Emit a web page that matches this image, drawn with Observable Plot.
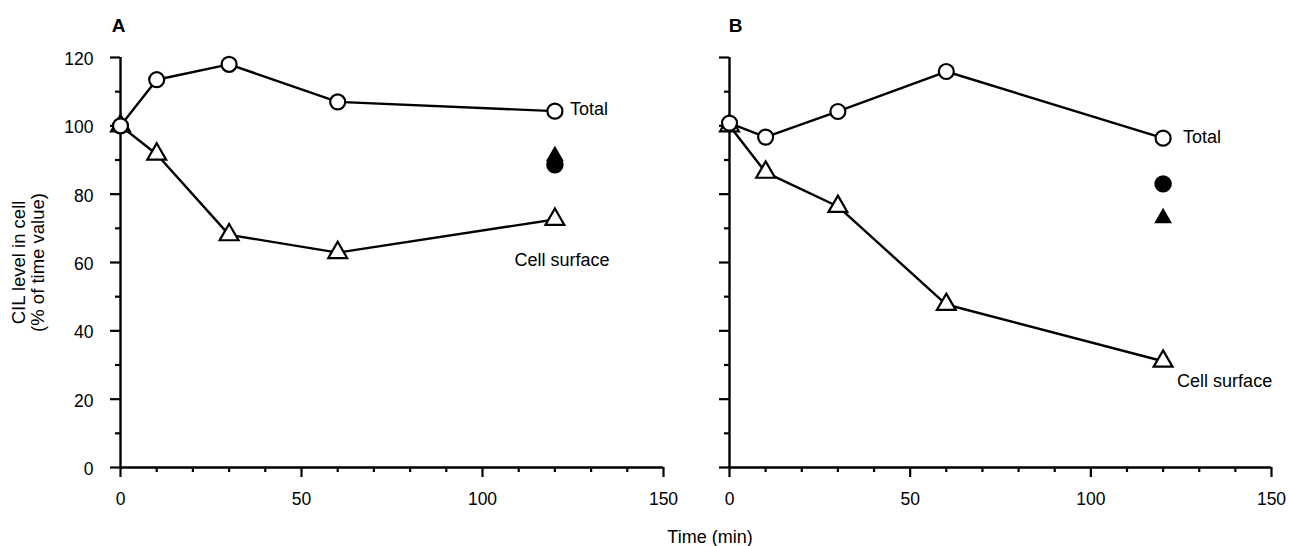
<!DOCTYPE html>
<html><head><meta charset="utf-8">
<script src="https://cdn.jsdelivr.net/npm/d3@7"></script>
<script src="https://cdn.jsdelivr.net/npm/@observablehq/plot@0.6"></script>
<style>
body{margin:0;background:#fff;}
#wrap{position:relative;width:1290px;height:546px;font-family:"Liberation Sans",Arial,sans-serif;color:#000;}
#wrap svg{position:absolute;top:0;}
#xlabel{position:absolute;top:527px;left:610px;width:200px;text-align:center;font-size:18px;line-height:20px;}
</style></head><body>
<div id="wrap"><div id="xlabel">Time (min)</div></div>
<script>
// ---- data ----
const times = [0, 10, 30, 60, 120];
const totalA = [100, 113.5, 118, 107, 104.3];
const surfaceA = [100, 91.7, 68.1, 62.9, 72.6];
const filledCircleA = [88.6];
const filledTriangleA = [91.2];
const totalB = [100.8, 96.7, 104.2, 115.9, 96.4];
const surfaceB = [100, 86.4, 76.4, 47.7, 31.1];
const filledCircleB = [83.0];
const filledTriangleB = [73.0];
const filledTime = [120];
const panelLetters = ["A", "B"];
const seriesNames = ["Total", "Cell surface"];
const yTicks = [0, 20, 40, 60, 80, 100, 120];
const yMinorTicks = [10, 30, 50, 70, 90, 110];
const xTicks = [0, 50, 100, 150];
const xMinorTicks = [10, 20, 30, 40, 60, 70, 80, 90, 110, 120, 130, 140];
const yLabel = "CIL level in cell\n(% of time value)";

function series(name, ys) { return times.map((t, i) => ({series: name, t, v: ys[i]})); }

function panel(cfg) {
  const tot = series(seriesNames[0], cfg.total);
  const surf = series(seriesNames[1], cfg.surface);
  const fc = filledTime.map((t, i) => ({t, v: cfg.fCircle[i]}));
  const ft = filledTime.map((t, i) => ({t, v: cfg.fTri[i]}));
  const last = times.length - 1;
  const marks = [
    Plot.axisY({ticks: yTicks, tickSize: 10, strokeWidth: 2.2, tickFormat: () => "", label: null}),
    Plot.axisY({ticks: yMinorTicks, tickSize: 5, strokeWidth: 2.2, tickFormat: () => "", label: null}),
    Plot.axisX({ticks: xTicks, tickSize: 10, tickPadding: 15, strokeWidth: 2.2, label: null}),
    Plot.axisX({ticks: xMinorTicks, tickSize: 5, strokeWidth: 2.2, tickFormat: () => "", label: null}),
    Plot.ruleX([0], {y1: 0, y2: 120, strokeWidth: 2.4}),
    Plot.ruleY([0], {x1: 0, x2: 150, strokeWidth: 2.4}),
    Plot.line(tot.concat(surf), {x: "t", y: "v", z: "series", stroke: "black", strokeWidth: 2.4}),
    Plot.dot(surf, {x: "t", y: "v", symbol: "triangle", r: 7, fill: "white", stroke: "black", strokeWidth: 2.2}),
    Plot.dot(tot, {x: "t", y: "v", r: 7.5, fill: "white", stroke: "black", strokeWidth: 2.2}),
    Plot.dot(ft, {x: "t", y: "v", symbol: "triangle", r: 6.6, fill: "black", stroke: "none"}),
    Plot.dot(fc, {x: "t", y: "v", r: 8.7, fill: "black", stroke: "none"}),
    Plot.text([tot[last]], {x: "t", y: "v", text: "series", textAnchor: "start", dx: cfg.totDx, dy: cfg.totDy, fontSize: 18}),
    Plot.text([surf[last]], {x: "t", y: "v", text: "series", textAnchor: cfg.surfAnchor, dx: cfg.surfDx, dy: cfg.surfDy, fontSize: 18}),
    Plot.text([cfg.letter], {frameAnchor: "top-left", dx: cfg.letterDx, dy: -32, textAnchor: "middle", lineAnchor: "middle", fontWeight: "bold", fontSize: 19})
  ];
  if (cfg.yLabels) {
    marks.push(Plot.text(yTicks, {x: 0, y: d => d, text: d => String(d), textAnchor: "end", lineAnchor: "middle", dx: -27, dy: 2, fontSize: 17.5}));
    marks.push(Plot.text([yLabel], {frameAnchor: "left", rotate: -90, dx: -92, fontSize: 18.5, lineHeight: 1.05, textAnchor: "middle", lineAnchor: "middle"}));
  }
  const svg = Plot.plot({
    width: cfg.width, height: 520,
    marginLeft: cfg.ml, marginRight: cfg.mr, marginTop: 57, marginBottom: 53,
    x: {domain: [0, 150]},
    y: {domain: [0, 120]},
    style: {fontFamily: "'Liberation Sans', Arial, sans-serif", fontSize: "17.5px", color: "black", background: "transparent", overflow: "visible"},
    marks
  });
  svg.style.left = cfg.left + "px";
  return svg;
}

const wrap = document.getElementById("wrap");
wrap.appendChild(panel({left: 0, width: 690, ml: 120, mr: 27, total: totalA, surface: surfaceA,
  fCircle: filledCircleA, fTri: filledTriangleA, letter: panelLetters[0], yLabels: true,
  totDx: 15, totDy: -2, surfAnchor: "middle", surfDx: 7, surfDy: 41, letterDx: -2}));
wrap.appendChild(panel({left: 690, width: 600, ml: 39, mr: 19, total: totalB, surface: surfaceB,
  fCircle: filledCircleB, fTri: filledTriangleB, letter: panelLetters[1], yLabels: false,
  totDx: 20, totDy: -1, surfAnchor: "start", surfDx: 14, surfDy: 20, letterDx: 6}));
</script>
</body></html>
